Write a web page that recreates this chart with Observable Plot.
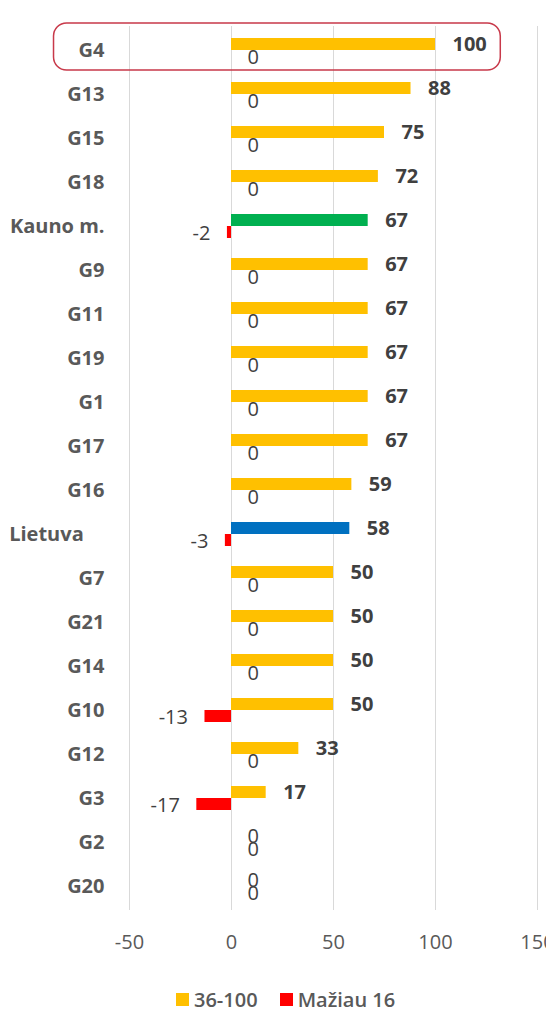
<!DOCTYPE html>
<html>
<head>
<meta charset="utf-8">
<script src="https://cdn.jsdelivr.net/npm/d3@7"></script>
<script src="https://cdn.jsdelivr.net/npm/@observablehq/plot@0.6"></script>
<style>
  html, body { margin: 0; padding: 0; background: #fff; }
  body { width: 546px; height: 1012px; overflow: hidden; font-family: "Open Sans", sans-serif; }
  #legend { display: flex; align-items: center; height: 22px; margin-top: 23px; padding-left: 176px;
            font-size: 20px; font-weight: 600; color: #595959; }
  #legend .sw { width: 13px; height: 13px; display: inline-block; margin-right: 5px; }
  #legend .item { display: flex; align-items: center; margin-right: 22px; }
</style>
</head>
<body>
<div id="chart"></div>
<div id="legend"></div>
<script>
// ---- data ----
const categories = ["G4","G13","G15","G18","Kauno m.","G9","G11","G19","G1","G17","G16","Lietuva","G7","G21","G14","G10","G12","G3","G2","G20"];
const high = [100,88,75,72,67,67,67,67,67,67,59,58,50,50,50,50,33,17,0,0];   // 36-100
const low  = [0,0,0,0,-2,0,0,0,0,0,0,-3,0,0,0,-13,0,-17,0,0];                // Mažiau 16
const seriesNames = ["36-100", "Mažiau 16"];
const xTicks = [-50, 0, 50, 100, 150];
const highlighted = "G4";
const highlightSpan = [-87, 132];

// ---- styling ----
const YELLOW = "#FFC000", RED = "#FF0000", GREEN = "#00B050", BLUE = "#0070C0";
const barColor = c => c === "Kauno m." ? GREEN : c === "Lietuva" ? BLUE : YELLOW;

const hiRows = categories.map((cat, i) => ({cat, v: high[i]}));
const loRows = categories.map((cat, i) => ({cat, v: low[i]}));

const plot = Plot.plot({
  width: 546,
  height: 965,
  marginTop: 26,
  marginBottom: 55,
  marginLeft: 129,
  marginRight: 9,
  style: {fontFamily: "'Open Sans', sans-serif", color: "#595959", background: "#fff", overflow: "hidden"},
  x: {domain: [-50, 150], axis: null, label: null},
  y: {type: "band", domain: categories, padding: 0, axis: null, label: null},
  marks: [
    Plot.gridX(xTicks, {stroke: "#d9d9d9", strokeOpacity: 1, strokeWidth: 1}),
    Plot.barX([{cat: highlighted}], {
      x1: highlightSpan[0], x2: highlightSpan[1], y: "cat",
      fill: "none", stroke: "#C8394A", strokeWidth: 1.5, rx: 13,
      insetTop: -5, insetBottom: 2
    }),
    Plot.barX(hiRows, {x: "v", y: "cat", fill: d => barColor(d.cat), insetTop: 10, insetBottom: 22}),
    Plot.barX(loRows, {x: "v", y: "cat", fill: RED, insetTop: 22, insetBottom: 10}),
    // labels of first series
    Plot.text(hiRows.filter(d => d.v !== 0), {x: "v", y: "cat", text: d => String(d.v), textAnchor: "start",
      dx: 17, dy: -6, fontSize: 20, fontWeight: "bold", fill: "#404040"}),
    Plot.text(hiRows.filter(d => d.v === 0), {x: "v", y: "cat", text: d => String(d.v), textAnchor: "start",
      dx: 16, dy: -6, fontSize: 20, fill: "#404040"}),
    // labels of second series
    Plot.text(loRows.filter(d => d.v < 0), {x: "v", y: "cat", text: d => String(d.v), textAnchor: "end",
      dx: -17, dy: 7, fontSize: 20, fill: "#404040"}),
    Plot.text(loRows.filter(d => d.v >= 0), {x: "v", y: "cat", text: d => String(d.v), textAnchor: "start",
      dx: 16, dy: 7, fontSize: 20, fill: "#404040"}),
    Plot.axisY({tickSize: 0, tickPadding: 25, fontSize: 20, fontWeight: "bold", label: null,
      tickFormat: d => d === "Lietuva" ? d + "\u00a0\u00a0\u00a0\u00a0" : d}),
    Plot.axisX(xTicks, {tickSize: 0, tickPadding: 24, fontSize: 20, label: null, tickFormat: d => String(d)})
  ]
});
document.getElementById("chart").appendChild(plot);

// legend
const legend = document.getElementById("legend");
[[seriesNames[0], YELLOW], [seriesNames[1], RED]].forEach(([name, col]) => {
  const item = document.createElement("span");
  item.className = "item";
  const sw = document.createElement("span");
  sw.className = "sw";
  sw.style.background = col;
  item.appendChild(sw);
  item.appendChild(document.createTextNode(name));
  legend.appendChild(item);
});
</script>
</body>
</html>
